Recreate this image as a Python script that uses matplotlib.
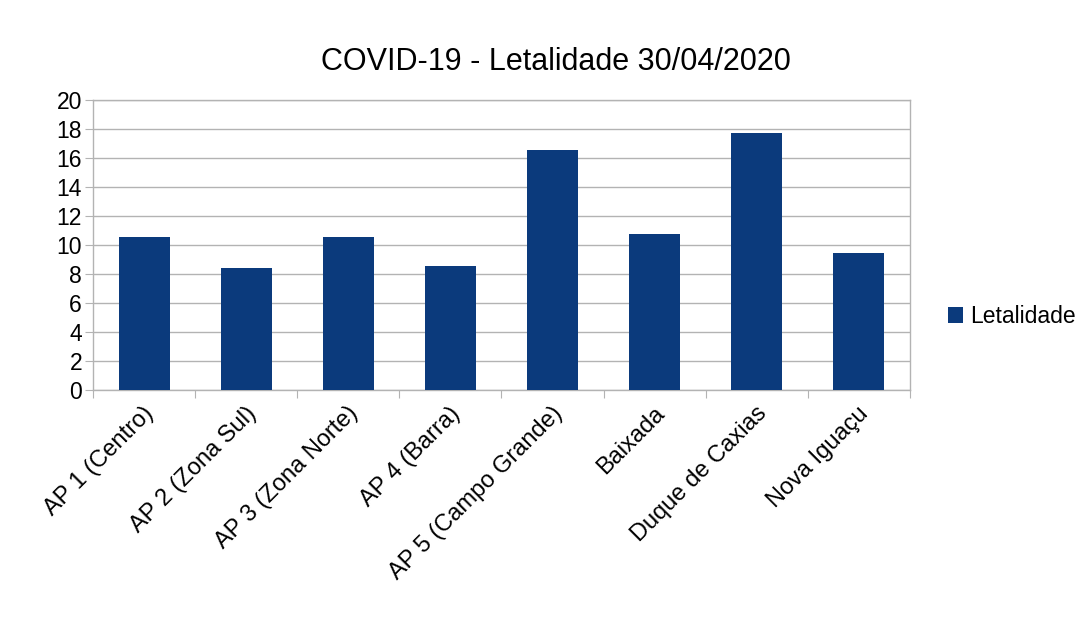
import matplotlib
matplotlib.use("Agg")
import matplotlib.pyplot as plt
import numpy as np
from matplotlib.transforms import ScaledTranslation

plt.rcParams.update({
    "font.family": ["Liberation Sans", "DejaVu Sans"],
})

categories = ["AP 1 (Centro)", "AP 2 (Zona Sul)", "AP 3 (Zona Norte)",
              "AP 4 (Barra)", "AP 5 (Campo Grande)", "Baixada",
              "Duque de Caxias", "Nova Iguaçu"]
letalidade = [10.53, 8.42, 10.55, 8.55, 16.52, 10.73, 17.72, 9.42]
yticks = list(range(0, 21, 2))

fig = plt.figure(figsize=(10.83, 6.17), dpi=100)
ax = fig.add_axes([0.086, 0.368, 0.754, 0.470])

x = np.arange(len(categories))
ax.bar(x, letalidade, width=0.5, color="#0b3a7c", label="Letalidade", zorder=3)

ax.set_xlim(-0.5, len(categories) - 0.5)
ax.set_ylim(0, 20)
ax.set_yticks(yticks)
ax.tick_params(axis="y", labelsize=16.5, length=6, color="#b3b3b3", pad=2)
ax.yaxis.grid(True, color="#b3b3b3", linewidth=1, zorder=0)

# ticks on category boundaries, labels at centers
ax.set_xticks(np.arange(len(categories) + 1) - 0.5)
ax.set_xticklabels([])
ax.tick_params(axis="x", length=6, color="#b3b3b3")
ax.set_xticks(x, minor=True)
ax.set_xticklabels(categories, minor=True, rotation=45, ha="right",
                   rotation_mode="anchor", fontsize=17)
ax.tick_params(axis="x", which="minor", length=0, pad=9)
off = ScaledTranslation(-1 / 72, 0, fig.dpi_scale_trans)
for lbl in ax.get_xticklabels(minor=True):
    lbl.set_transform(lbl.get_transform() + off)

for s in ax.spines.values():
    s.set_color("#b3b3b3")
    s.set_linewidth(1)

fig.text(0.513, 1 - 70 / 617, "COVID-19 - Letalidade 30/04/2020",
         ha="center", va="baseline", fontsize=22)

fig.legend(loc="center left", bbox_to_anchor=(0.856, 0.487), frameon=False,
           fontsize=16.5, handlelength=0.65, handleheight=0.65,
           handletextpad=0.35)

fig.savefig("out.png", dpi=100)
